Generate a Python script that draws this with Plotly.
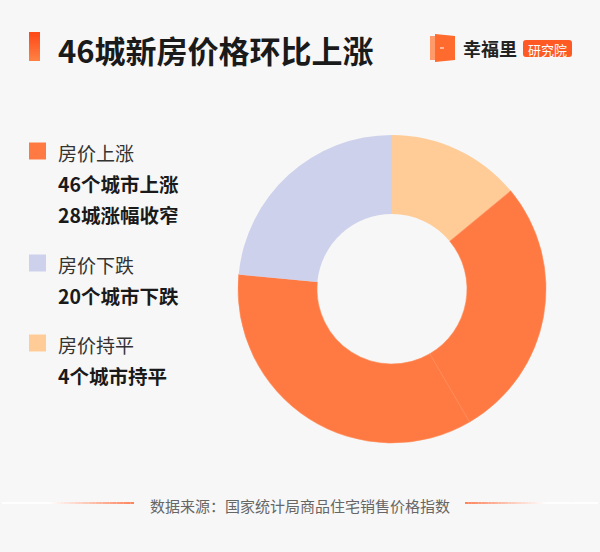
import plotly.graph_objects as go

W, H = 600, 552
BG = "#F7F7F7"
FONT = "Noto Sans CJK SC"

# Donut slices (angular shares, start at 12 o'clock, clockwise)
slice_labels = ["房价持平", "房价上涨A", "房价上涨B", "房价下跌"]
slice_values = [14.0, 27.6, 34.9, 23.5]
slice_colors = ["#FFCC98", "#FF7A42", "#FF7A42", "#CDD1EC"]

# Legend entries
legend_heads = ["房价上涨", "房价下跌", "房价持平"]
legend_colors = ["#FF7A42", "#CDD1EC", "#FFCC98"]
legend_lines = [["46个城市上涨", "28城涨幅收窄"], ["20个城市下跌"], ["4个城市持平"]]
legend_head_y = [152, 264, 344]

title_text = "46城新房价格环比上涨"
source_text = "数据来源：国家统计局商品住宅销售价格指数"


def px(x):
    return x / W


def py(y):
    return 1 - y / H


cx, cy, r = 392, 289, 154

fig = go.Figure()
fig.add_trace(go.Pie(
    labels=slice_labels, values=slice_values, sort=False, direction="clockwise",
    rotation=0, hole=0.487, textinfo="none", hoverinfo="skip",
    marker=dict(colors=slice_colors, line=dict(width=0.6, color=["rgba(0,0,0,0)", "#FF8A58", "#FF8A58", "rgba(0,0,0,0)"])),
    domain=dict(x=[px(cx - r), px(cx + r)], y=[py(cy + r), py(cy - r)]),
    showlegend=False,
))

shapes = []
annotations = []

# Title bar with gradient (approximate with overlapping bands)
top, bot = 32, 61
n = 12
for i in range(n):
    t = i / (n - 1)
    c0 = (255, 74, 26)
    c1 = (255, 128, 66)
    col = "rgb(%d,%d,%d)" % tuple(int(c0[k] + (c1[k] - c0[k]) * t) for k in range(3))
    y0 = top + (bot - top) * i / n
    y1 = min(bot, top + (bot - top) * (i + 1) / n + 1)
    shapes.append(dict(type="rect", xref="paper", yref="paper", x0=px(29), x1=px(40),
                       y0=py(y1), y1=py(y0), fillcolor=col, line=dict(width=0)))

annotations.append(dict(text="<b>%s</b>" % title_text, x=px(56), y=py(49), xref="paper", yref="paper",
                        xanchor="left", yanchor="middle", showarrow=False,
                        font=dict(family=FONT, size=31, color="#1A1A1A")))

# Logo icon
shapes.append(dict(type="rect", xref="paper", yref="paper", x0=px(430), x1=px(436), y0=py(60), y1=py(36),
                   fillcolor="#FF9A6A", line=dict(width=0)))
shapes.append(dict(type="path", xref="paper", yref="paper",
                   path="M %f %f L %f %f L %f %f L %f %f Z" % (px(435), py(34), px(455), py(36), px(455), py(60), px(435), py(62)),
                   fillcolor="#FF6A2E", line=dict(width=0)))
shapes.append(dict(type="rect", xref="paper", yref="paper", x0=px(440), x1=px(444), y0=py(48.5), y1=py(47.5),
                   fillcolor="#FFFFFF", line=dict(width=0)))
annotations.append(dict(text="<b>幸福里</b>", x=px(461), y=py(48), xref="paper", yref="paper",
                        xanchor="left", yanchor="middle", showarrow=False,
                        font=dict(family=FONT, size=18, color="#222222")))
bx0, bx1, by0, by1, rr = 523, 572, 40, 57, 3
shapes.append(dict(type="path", xref="paper", yref="paper",
                   path=("M %f %f L %f %f Q %f %f %f %f L %f %f Q %f %f %f %f L %f %f Q %f %f %f %f L %f %f Q %f %f %f %f Z" % (
                       px(bx0 + rr), py(by0), px(bx1 - rr), py(by0), px(bx1), py(by0), px(bx1), py(by0 + rr),
                       px(bx1), py(by1 - rr), px(bx1), py(by1), px(bx1 - rr), py(by1),
                       px(bx0 + rr), py(by1), px(bx0), py(by1), px(bx0), py(by1 - rr),
                       px(bx0), py(by0 + rr), px(bx0), py(by0), px(bx0 + rr), py(by0))),
                   fillcolor="#FF5A24", line=dict(width=0)))
annotations.append(dict(text="研究院", x=px((bx0 + bx1) / 2), y=py((by0 + by1) / 2 + 0.5), xref="paper", yref="paper",
                        xanchor="center", yanchor="middle", showarrow=False,
                        font=dict(family=FONT, size=13, color="#FFFFFF")))

# Legend
for head, col, lines, hy in zip(legend_heads, legend_colors, legend_lines, legend_head_y):
    shapes.append(dict(type="rect", xref="paper", yref="paper", x0=px(29), x1=px(46),
                       y0=py(hy + 7.5), y1=py(hy - 9.5), fillcolor=col, line=dict(width=0)))
    annotations.append(dict(text=head, x=px(56), y=py(hy), xref="paper", yref="paper",
                            xanchor="left", yanchor="middle", showarrow=False,
                            font=dict(family=FONT, size=19, color="#333333")))
    for j, ln in enumerate(lines):
        annotations.append(dict(text="<b>%s</b>" % ln, x=px(56), y=py(hy + 31 + 31.5 * j), xref="paper", yref="paper",
                                xanchor="left", yanchor="middle", showarrow=False,
                                font=dict(family=FONT, size=19.5, color="#1A1A1A")))

# Footer
annotations.append(dict(text=source_text, x=px(300), y=py(505), xref="paper", yref="paper",
                        xanchor="center", yanchor="middle", showarrow=False,
                        font=dict(family=FONT, size=15, color="#666666")))


def grad_line(xa, xb, ca, cb, y, n=24):
    for i in range(n):
        t = (i + 0.5) / n
        col = "rgb(%d,%d,%d)" % tuple(int(ca[k] + (cb[k] - ca[k]) * t) for k in range(3))
        x0 = xa + (xb - xa) * i / n
        x1 = xa + (xb - xa) * (i + 1) / n
        shapes.append(dict(type="line", xref="paper", yref="paper", x0=px(x0), x1=px(x1),
                           y0=py(y), y1=py(y), line=dict(color=col, width=1.6)))


WHITE = (255, 255, 255)
ORANGE = (255, 100, 50)
grad_line(2, 50, WHITE, WHITE, 503, n=2)
grad_line(50, 134, WHITE, ORANGE, 503)
grad_line(465, 545, ORANGE, WHITE, 503)
grad_line(545, 598, WHITE, WHITE, 503, n=2)

fig.update_layout(
    width=W, height=H, margin=dict(l=0, r=0, t=0, b=0),
    paper_bgcolor=BG, plot_bgcolor=BG,
    shapes=shapes, annotations=annotations, showlegend=False,
)

fig.write_html("out.html", config={"displayModeBar": False, "staticPlot": True},
               post_script="document.body.style.margin='0';document.body.style.padding='0';"
                           "document.body.style.overflow='hidden';document.body.style.background='%s';" % BG)
